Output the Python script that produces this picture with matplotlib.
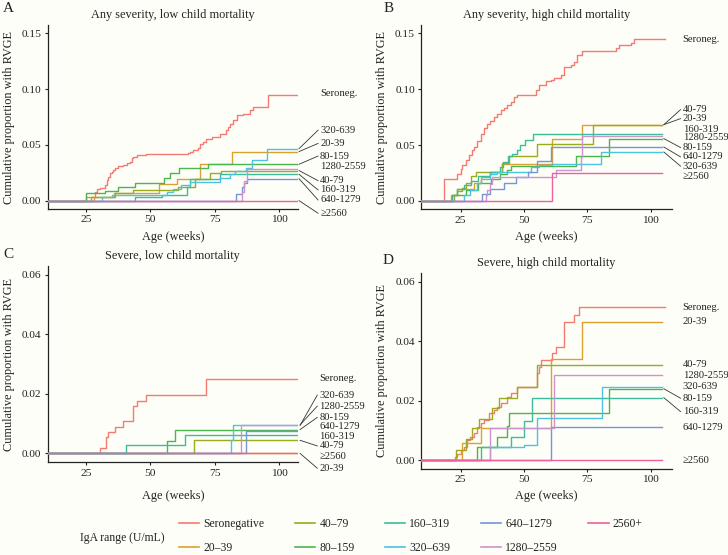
import numpy as np
import matplotlib
matplotlib.use('Agg')
import matplotlib.pyplot as plt
from matplotlib.lines import Line2D

plt.rcParams['font.family'] = ['Liberation Serif', 'DejaVu Serif']

groups = ['Seronegative', '20–39', '40–79', '80–159', '160–319',
          '320–639', '640–1279', '1280–2559', '2560+']
short_labels = ['Seroneg.', '20-39', '40-79', '80-159', '160-319',
                '320-639', '640-1279', '1280-2559', '≥2560']
colors = ['#F47A72', '#DDA030', '#9AAB1E', '#4DB54D', '#3DBC9C',
          '#4CC3E3', '#7396D8', '#CC94CC', '#F0609F']

# step points (age in weeks, cumulative proportion)
A_steps = {
    'Seronegative': ([25, 28.5, 29.1, 30.4, 32.4, 33, 33.7, 34.3, 35, 35.6, 36.3, 37.5, 39.5, 40.8,
                      42.1, 42.7, 43.4, 44.7, 48.5, 64.7, 65.3, 66.6, 68.6, 69.2, 70.5, 71.8, 73.8,
                      77, 79.6, 80.2, 80.9, 82.2, 83.5, 86, 88.6, 89.9, 95.7],
                     [0.0036, 0.008, 0.010, 0.011, 0.014, 0.0185, 0.021, 0.0245, 0.026, 0.0275, 0.029,
                      0.031, 0.032, 0.0335, 0.035, 0.038, 0.0395, 0.0406, 0.042, 0.043, 0.044, 0.045,
                      0.047, 0.051, 0.053, 0.055, 0.057, 0.06, 0.063, 0.066, 0.069, 0.072, 0.077,
                      0.078, 0.081, 0.084, 0.095]),
    '20–39': ([28.2, 36, 53.5, 60.2, 69.2, 81.8], [0.0036, 0.007, 0.0146, 0.019, 0.0326, 0.044]),
    '40–79': ([27, 36.3, 43.4, 60.8, 67.2, 73.1, 77.5], [0.003, 0.007, 0.0095, 0.012, 0.019, 0.0245, 0.027]),
    '80–159': ([25, 32.4, 37.5, 44, 55.3, 57.5, 61.3, 72.5],
               [0.007, 0.0087, 0.0125, 0.016, 0.02, 0.0245, 0.029, 0.0326]),
    '160–319': ([44, 54.4, 64.3, 65.6, 77], [0.003, 0.005, 0.0125, 0.019, 0.0236]),
    '320–639': ([31.1, 35, 56.3, 58.9, 62.1, 65.3, 77, 80.9, 83, 87.3, 89.5, 95.5],
                [0.003, 0.005, 0.008, 0.0105, 0.014, 0.017, 0.02, 0.024, 0.027, 0.029, 0.036, 0.0466]),
    '640–1279': ([83.2, 85.5, 86.5, 87.5], [0.006, 0.012, 0.016, 0.0197]),
    '1280–2559': ([85.5, 86.5, 87.4], [0.008, 0.018, 0.0287]),
    '2560+': ([], []),
}
A_end = [107] * 9

B_steps = {
    'Seronegative': ([18.4, 23.7, 25, 25.7, 27, 28.3, 29.6, 30.3, 31.6, 32.9, 34.2, 35.5, 36.8, 38.2,
                      39.5, 40.8, 42.1, 43.4, 44.7, 46.1, 47.4, 54.6, 55.9, 58.6, 60.5, 61.8, 64.5,
                      65.8, 68.4, 69.7, 71.1, 73, 86.2, 87.5, 92.1, 93.4],
                     [0.0194, 0.0245, 0.029, 0.032, 0.0365, 0.041, 0.0454, 0.048, 0.054, 0.060, 0.065,
                      0.069, 0.072, 0.075, 0.078, 0.081, 0.083, 0.086, 0.089, 0.093, 0.095, 0.099,
                      0.104, 0.107, 0.108, 0.110, 0.113, 0.120, 0.1216, 0.1246, 0.1306, 0.1345,
                      0.1365, 0.1395, 0.1416, 0.1446]),
    '20–39': ([21.4, 23.4, 30.3, 33, 36.8, 41.2, 60.9, 73],
              [0.005, 0.011, 0.016, 0.021, 0.026, 0.0334, 0.0558, 0.0683]),
    '40–79': ([22.4, 23.7, 25.5, 27, 29, 31, 41.2, 44, 55, 77.4],
              [0.005, 0.009, 0.012, 0.016, 0.022, 0.026, 0.034, 0.04, 0.0513, 0.0683]),
    '80–159': ([21.5, 27, 32, 37, 40.5, 43.5, 45, 70.4, 83.7],
               [0.005, 0.01, 0.016, 0.02, 0.024, 0.028, 0.031, 0.04, 0.0558]),
    '160–319': ([21.7, 23.5, 26.5, 29, 32, 36.8, 40.5, 41.8, 43.8, 45.1, 47.1, 48.4, 50.4, 53.4],
                [0.005, 0.011, 0.014, 0.018, 0.022, 0.026, 0.0304, 0.0349, 0.04, 0.0424, 0.0453,
                 0.0498, 0.0543, 0.0596]),
    '320–639': ([26.3, 28.9, 31.6, 33, 36.8, 39.5, 52.6, 55.9, 61.2, 80.5],
                [0.005, 0.01, 0.016, 0.02, 0.024, 0.026, 0.03, 0.032, 0.033, 0.0438]),
    '640–1279': ([33.6, 36.8, 42.1, 46.7, 51.5, 55.3, 60.5],
                 [0.006, 0.011, 0.016, 0.021, 0.026, 0.036, 0.0483]),
    '1280–2559': ([34.9, 35.5, 36.8, 37.5, 62.5, 72.4, 73],
                  [0.005, 0.01, 0.015, 0.021, 0.028, 0.039, 0.0581]),
    '2560+': ([61.2], [0.0254]),
}
B_end = [105.7] + [104.4] * 8

C_steps = {
    'Seronegative': ([30.4, 32.7, 33.5, 36.3, 39.5, 43.4, 44.7, 48.5, 71.8],
                     [0.0018, 0.0054, 0.0072, 0.009, 0.0108, 0.016, 0.0177, 0.0196, 0.025]),
    '20–39': ([], []),
    '40–79': ([67], [0.0044]),
    '80–159': ([56.3, 59.5], [0.004, 0.008]),
    '160–319': ([40.6, 63.3], [0.0027, 0.0063]),
    '320–639': ([81.5, 82.2], [0.0045, 0.0094]),
    '640–1279': ([87.1], [0.0074]),
    '1280–2559': ([85.4], [0.0096]),
    '2560+': ([], []),
}
C_end = [108.7] * 9

D_steps = {
    'Seronegative': ([22.8, 23.7, 25, 26.3, 27.6, 28.9, 30.3, 31.6, 32.9, 34.2, 36.2, 38.2, 39.5,
                      40.8, 43.4, 44.7, 47.4, 55.3, 55.9, 56.6, 61.2, 62.5, 65.8, 69.7, 71.7],
                     [0.0011, 0.0022, 0.0034, 0.0045, 0.0067, 0.0078, 0.009, 0.011, 0.0124, 0.0135,
                      0.0157, 0.0168, 0.018, 0.0191, 0.0213, 0.0224, 0.0247, 0.0292, 0.0314, 0.0336,
                      0.0359, 0.0382, 0.0465, 0.0487, 0.0515]),
    '20–39': ([25.7, 32.9, 60.5, 73], [0.0056, 0.0107, 0.034, 0.0465]),
    '40–79': ([23, 27, 29.6, 32.2, 37.5, 40.1, 47.4, 55],
              [0.0034, 0.007, 0.0107, 0.0138, 0.0175, 0.021, 0.0247, 0.032]),
    '80–159': ([31.6, 39.5, 43.5, 44.2, 83.6], [0.0045, 0.0078, 0.0115, 0.0159, 0.024]),
    '160–319': ([32.9, 44.7, 50, 53.3], [0.0045, 0.0078, 0.013, 0.021]),
    '320–639': ([36.8, 50, 55, 80.9], [0.0045, 0.005, 0.014, 0.0247]),
    '640–1279': ([60.5], [0.011]),
    '1280–2559': ([36.8, 61.8], [0.0107, 0.0286]),
    '2560+': ([], []),
}
D_end = [105.7] + [104.4] * 8

# label heights at right of each panel (same order as groups)
A_lab_y = [0.096, 0.0513, 0.0179, 0.040, 0.0096, 0.0632, 0.0006, 0.031, -0.0113]
B_lab_y = [0.1443, 0.0737, 0.0817, 0.0478, 0.0639, 0.0311, 0.0394, 0.0564, 0.0223]
C_lab_y = [0.0252, -0.005, 0.0025, 0.0121, 0.0058, 0.0196, 0.0089, 0.0159, -0.0011]
D_lab_y = [0.0512, 0.0465, 0.0323, 0.0208, 0.0163, 0.0247, 0.0110, 0.0283, 0.0]

W, H = 728, 555
fig = plt.figure(figsize=(W / 100, H / 100), dpi=100, facecolor='#fefef8')


def box(l, t, r, b):
    return [l / W, 1 - b / H, (r - l) / W, (b - t) / H]


# letter, title, axes box, data, label x, y range, y ticks, letter pos (px), ylabel x (px), xlabel y (px)
panels = [
    ('A', 'Any severity, low child mortality', box(47.7, 25, 298, 209), A_steps, A_end, A_lab_y,
     (10.1, 107.4), 116.0, (0, 0.15), [0, 0.05, 0.10, 0.15], (3, 9), 9, 237),
    ('B', 'Any severity, high child mortality', box(421.3, 25, 671.7, 209.3), B_steps, B_end, B_lab_y,
     (9.5, 108.3), 112.6, (0, 0.15), [0, 0.05, 0.10, 0.15], (384, 8), 382, 237),
    ('C', 'Severe, low child mortality', box(47.7, 266, 298, 462.3), C_steps, C_end, C_lab_y,
     (10.1, 107.4), 115.7, (0, 0.06), [0, 0.02, 0.04, 0.06], (3, 255), 9, 496),
    ('D', 'Severe, high child mortality', box(421.3, 272.8, 671.7, 469), D_steps, D_end, D_lab_y,
     (9.5, 108.3), 112.6, (0, 0.06), [0, 0.02, 0.04, 0.06], (383, 260), 382, 496),
]

txt = '#222222'
for letter, title, pos, steps, ends, lab_y, xlim, lab_x, yr, yt, lpos, yl_x, xl_y in panels:
    ax = fig.add_axes(pos)
    ax.set_facecolor('none')
    pad = 0.05 * (yr[1] - yr[0])
    ax.set_xlim(*xlim)
    ax.set_ylim(yr[0] - pad, yr[1] + pad)
    for i, g in enumerate(groups):
        t, y = steps[g]
        xs = [0] + list(t) + [ends[i]]
        ys = [0] + list(y) + [y[-1] if len(y) else 0]
        ax.step(xs, ys, where='post', color=colors[i], lw=1.0, zorder=3 + (i == 8))
        end_y = ys[-1]
        ax.text(lab_x, lab_y[i], short_labels[i], fontsize=7.6, color=txt,
                ha='left', va='center', clip_on=False)
        # leader line when the label was pushed away from its curve
        if abs(lab_y[i] - end_y) > 0.03 * yr[1]:
            ax.plot([min(ends[i], xlim[1]) + 0.8, lab_x - 0.8], [end_y, lab_y[i]],
                    color='#333333', lw=0.6, clip_on=False)
    for s in ['top', 'right']:
        ax.spines[s].set_visible(False)
    for s in ['left', 'bottom']:
        ax.spines[s].set_color('#222222')
        ax.spines[s].set_linewidth(0.9)
    ax.set_xticks([25, 50, 75, 100])
    ax.set_yticks(yt)
    ax.set_yticklabels(['%.2f' % v for v in yt])
    ax.tick_params(labelsize=8.2, colors='#222222', length=2.5, width=0.8, labelcolor=txt, pad=2)
    ax.set_title(title, fontsize=8.8, color=txt, pad=5)
    ax.set_ylabel('Cumulative proportion with RVGE', fontsize=8.8, color=txt, va='center')
    ax.set_xlabel('Age (weeks)', fontsize=8.8, color=txt, va='center')
    bb = ax.get_position()
    ax.yaxis.set_label_coords((yl_x - bb.x0 * W) / (bb.width * W), 0.5)
    ax.xaxis.set_label_coords(0.5, ((1 - bb.y0) * H - xl_y) / (bb.height * H))
    fig.text(lpos[0] / W, 1 - lpos[1] / H, letter, fontsize=11, color=txt, ha='left', va='center')

# legend
handles = [Line2D([], [], color=c, lw=1.2) for c in colors]
fig.text(122 / W, 1 - 538 / H, 'IgA range (U/mL)', fontsize=8.4, color=txt, ha='center', va='center')
fig.legend(handles, groups, ncol=5, loc='upper left', bbox_to_anchor=(179 / W, 1 - 518 / H),
           frameon=False, fontsize=8.4, handlelength=1.75, handletextpad=0.35,
           columnspacing=2.6, labelspacing=1.05, borderpad=0, borderaxespad=0,
           labelcolor=txt)

fig.savefig('out.png', dpi=100, facecolor=fig.get_facecolor())
